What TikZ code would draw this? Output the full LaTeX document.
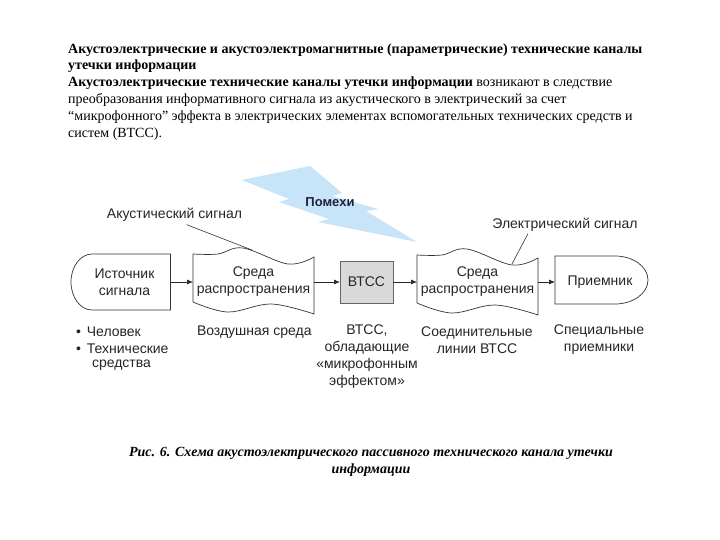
\documentclass[tikz,border=0pt]{standalone}
\usepackage{fontspec}
\setmainfont{Liberation Serif}
\setsansfont{Liberation Sans}
\usetikzlibrary{arrows.meta}
\definecolor{bolt}{RGB}{200,228,248}
\definecolor{btccfill}{RGB}{217,217,217}
\definecolor{nav}{RGB}{30,35,60}
\begin{document}
\begin{tikzpicture}[x=1pt,y=-1pt,
  hdr/.style={anchor=base west, inner sep=0pt, font=\fontsize{14}{17}\selectfont},
  lbl/.style={font=\sffamily\fontsize{14}{17}\selectfont, inner sep=0pt, outer sep=0pt, align=center, text=black!85},
  outline/.style={draw=black!80, line width=0.7pt, fill=white},
  arr/.style={-{Latex[length=6pt,width=5pt]}, line width=0.7pt, draw=black!85},
  lead/.style={line width=0.6pt, draw=black!80},
  tape/.pic={\draw[outline] plot[smooth,tension=0.6] coordinates {(0,0) (25,0) (50,-6) (95,10) (121,3)}
     -- plot[smooth,tension=0.6] coordinates {(121,60) (78,50) (35,58) (0,48)} -- cycle;}
]
\useasboundingbox[fill=white] (0,0) rectangle (720,540);

% header text
\node[hdr] (h1) at (68,54) {\textbf{Акустоэлектрические и акустоэлектромагнитные (параметрические) технические каналы}};
\node[hdr] (h2) at (68,70) {\textbf{утечки информации}};
\node[hdr] (h3) at (68,87) {\textbf{Акустоэлектрические технические каналы утечки информации} возникают в следствие};
\node[hdr] (h4) at (68,104) {преобразования информативного сигнала из акустического в электрический за счет};
\node[hdr] (h5) at (68,121) {“микрофонного” эффекта в электрических элементах вспомогательных технических средств и};
\node[hdr] (h6) at (68,138) {систем (ВТСС).};

% lightning bolt
\fill[bolt] (241.7,180) -- (310,166) -- (342,193) -- (332,196) -- (378,209) -- (366,211)
  -- (417,242) -- (318,222) -- (329,219) -- (279,202) -- (289,199) -- cycle;
\node[font=\sffamily\bfseries\fontsize{13}{15}\selectfont, text=nav, inner sep=0pt] (pom) at (330,202) {Помехи};

% shapes
\draw[outline] (170.5,254) -- (92,254) arc[start angle=270, end angle=90, x radius=21, y radius=28] -- (170.5,310) -- cycle;
\pic at (193,254) {tape};
\pic at (417,255) {tape};
\draw[outline] (555,256) -- (615,256) arc[start angle=270, end angle=450, x radius=33, y radius=24] -- (555,304) -- cycle;

\node[lbl, minimum width=92pt] (src) at (124.5,282) {Источник\\сигнала};
\node[lbl, minimum width=121pt] (med1) at (253.5,282) {Среда\\распространения};
\node[lbl, draw=black!60, fill=btccfill, line width=0.7pt, minimum width=53pt, minimum height=42pt] (btcc) at (366.5,282) {ВТСС};
\node[lbl, minimum width=121pt] (med2) at (477.5,282) {Среда\\распространения};
\node[lbl, minimum width=90pt] (rcv) at (600,282) {Приемник};

\draw[arr] (src.east) -- (med1.west);
\draw[arr] (med1.east) -- (btcc.west);
\draw[arr] (btcc.east) -- (med2.west);
\draw[arr] (med2.east) -- (rcv.west);

% signal labels
\node[lbl] (acl) at (174.5,215) {Акустический сигнал};
\coordinate (acT) at (252,250);
\draw[lead] ([xshift=12pt,yshift=-3pt]acl.south) -- (acT);
\node[lbl] (ecl) at (565,225) {Электрический сигнал};
\coordinate (ecT) at (512,264);
\draw[lead] ([xshift=-37pt,yshift=-2pt]ecl.south) -- (ecT);

% bottom labels
\node[lbl, anchor=west] (b1) at (76,332) {•\hspace{6pt}Человек};
\node[lbl, anchor=west] (b2) at (76,349) {•\hspace{6pt}Технические};
\node[lbl, anchor=west] (b3) at (92,365) {средства};
\node[lbl, anchor=west] (air) at (197,332) {Воздушная среда};
\node[lbl] (bt) at (367,357) {ВТСС,\\обладающие\\«микрофонным\\эффектом»};
\node[lbl] (lin) at (477,340) {Соединительные\\линии ВТСС};
\node[lbl] (spc) at (599,340) {Специальные\\приемники};

% caption
\node[font=\bfseries\itshape\fontsize{14}{17}\selectfont, align=center, inner sep=0pt] (cap) at (371,461.5)
  {Рис. 6. Схема акустоэлектрического пассивного технического канала утечки\\информации};
\end{tikzpicture}
\end{document}
